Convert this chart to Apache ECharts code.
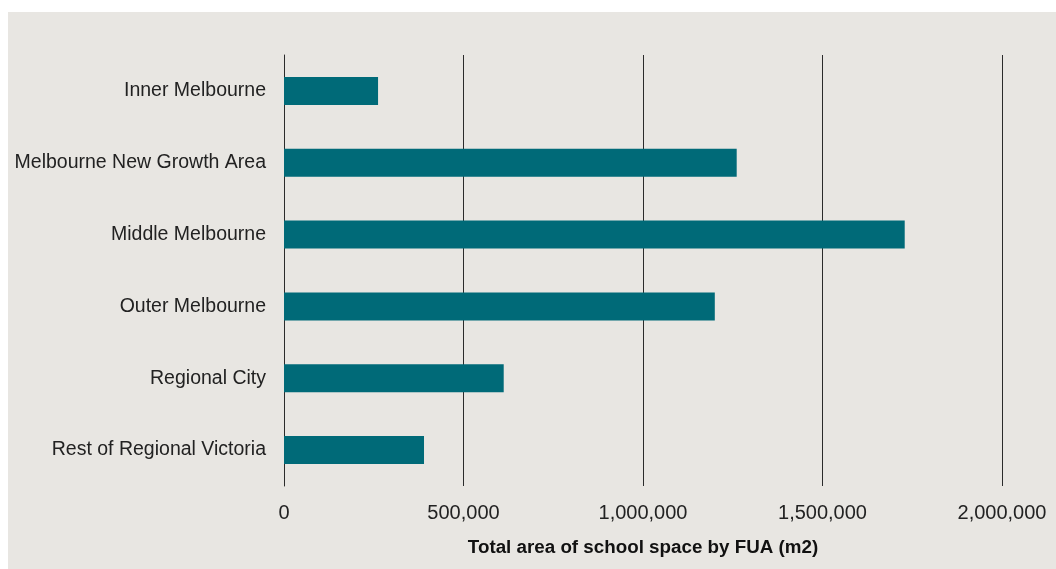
<!DOCTYPE html>
<html>
<head>
<meta charset="utf-8">
<script src="https://cdn.jsdelivr.net/npm/echarts@6/dist/echarts.min.js"></script>
<style>
html,body{margin:0;padding:0;background:#ffffff;width:1056px;height:569px;overflow:hidden;}
#chart{position:absolute;left:8px;top:12px;width:1048px;height:557px;}
</style>
</head>
<body>
<div id="chart"></div>
<script>
const categories = ["Inner Melbourne","Melbourne New Growth Area","Middle Melbourne","Outer Melbourne","Regional City","Rest of Regional Victoria"];
const values = [262000, 1261000, 1729000, 1200000, 612000, 390000];
const axisTitle = "Total area of school space by FUA (m2)";

const chart = echarts.init(document.getElementById('chart'), null, {renderer:'canvas'});
chart.setOption({
  backgroundColor:'#e8e6e2',
  animation:false,
  grid:{left:276, top:43, width:718, height:431, containLabel:false},
  xAxis:{
    type:'value', min:0, max:2000000, interval:500000,
    axisLine:{show:false}, axisTick:{show:false},
    splitLine:{show:true, lineStyle:{color:'#2b2b2b', width:1}},
    axisLabel:{color:'#222', fontSize:20, fontFamily:'Liberation Sans, Arial, sans-serif', margin:17,
      formatter:v=>v.toLocaleString('en-US')},
    name:axisTitle, nameLocation:'middle', nameGap:52,
    nameTextStyle:{color:'#111', fontSize:18.8, fontWeight:'bold', fontFamily:'Liberation Sans, Arial, sans-serif'}
  },
  yAxis:{
    type:'category', data:categories, inverse:true,
    axisLine:{show:true, lineStyle:{color:'#2b2b2b', width:1}},
    axisTick:{show:false},
    axisLabel:{color:'#222', fontSize:19.5, fontFamily:'Liberation Sans, Arial, sans-serif', margin:18, padding:[4,0,0,0]}
  },
  series:[{
    type:'bar', data:values, barWidth:28,
    itemStyle:{color:'#006a78'}
  }]
});
</script>
</body>
</html>
